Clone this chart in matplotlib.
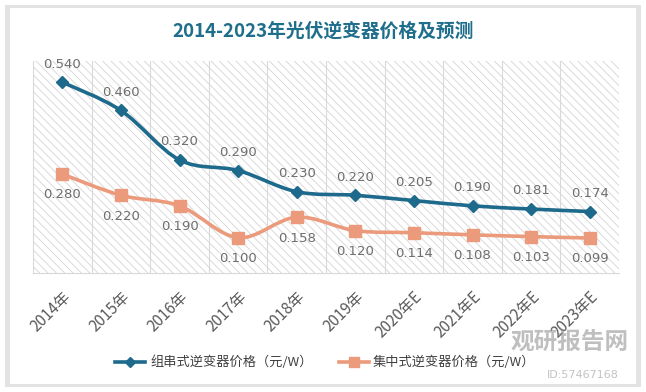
import matplotlib
matplotlib.use("Agg")
import matplotlib.pyplot as plt
import numpy as np
from matplotlib.path import Path
from matplotlib.patches import PathPatch, Rectangle

plt.rcParams['font.family'] = ['Noto Sans CJK SC', 'DejaVu Sans']
plt.rcParams['hatch.linewidth'] = 0.6
plt.rcParams['hatch.color'] = '#D4D4D4'

categories = ['2014年', '2015年', '2016年', '2017年', '2018年', '2019年',
              '2020年E', '2021年E', '2022年E', '2023年E']
string_price = [0.540, 0.460, 0.320, 0.290, 0.230, 0.220, 0.205, 0.190, 0.181, 0.174]
central_price = [0.280, 0.220, 0.190, 0.100, 0.158, 0.120, 0.114, 0.108, 0.103, 0.099]
series_names = ['组串式逆变器价格（元/W）', '集中式逆变器价格（元/W）']
title = '2014-2023年光伏逆变器价格及预测'

BLUE = '#1D6A8C'
ORANGE = '#EB9B7B'
LABEL = '#6E6E6E'

fig = plt.figure(figsize=(6.46, 3.92), dpi=100)
fig.patch.set_facecolor('white')

# card with soft shadow
for pad, c in [(9, '#F2F2F2'), (7, '#E9E9E9'), (5, '#E3E3E3')]:
    fig.add_artist(Rectangle((pad / 646, pad / 392), 1 - 2 * pad / 646, 1 - 2 * pad / 392,
                             transform=fig.transFigure, facecolor=c, edgecolor='none', zorder=0))
fig.add_artist(Rectangle((10 / 646, 8 / 392), 1 - 20 / 646, 1 - 16 / 392,
                         transform=fig.transFigure, facecolor='white', edgecolor='none', zorder=0))

ax = fig.add_axes([33 / 646, (392 - 273) / 392, (619 - 33) / 646, (273 - 61) / 392])
ax.set_facecolor('none')
ax.add_patch(Rectangle((0, 0), 1, 1, transform=ax.transAxes, facecolor='white',
                       edgecolor='#D4D4D4', hatch='\\\\\\\\', linewidth=0, zorder=0))

n = len(categories)
x = np.arange(n)


def smooth_path(xs, ys):
    verts = [(xs[0], ys[0])]
    codes = [Path.MOVETO]
    for i in range(len(xs) - 1):
        p0 = np.array([xs[max(i - 1, 0)], ys[max(i - 1, 0)]])
        p1 = np.array([xs[i], ys[i]])
        p2 = np.array([xs[i + 1], ys[i + 1]])
        p3 = np.array([xs[min(i + 2, len(xs) - 1)], ys[min(i + 2, len(xs) - 1)]])
        c1 = p1 + (p2 - p0) / 6
        c2 = p2 - (p3 - p1) / 6
        verts += [tuple(c1), tuple(c2), tuple(p2)]
        codes += [Path.CURVE4] * 3
    return Path(verts, codes)


ax.add_patch(PathPatch(smooth_path(x, string_price), facecolor='none', edgecolor=BLUE,
                       linewidth=2.6, zorder=3, capstyle='round'))
ax.add_patch(PathPatch(smooth_path(x, central_price), facecolor='none', edgecolor=ORANGE,
                       linewidth=2.6, zorder=3, capstyle='round'))
ax.plot(x, string_price, linestyle='none', marker='D', markersize=6, color=BLUE, zorder=4)
ax.plot(x, central_price, linestyle='none', marker='s', markersize=8, color=ORANGE, zorder=4)

for xi, v in zip(x, string_price):
    ax.annotate(f'{v:.3f}', (xi, v), xytext=(0, 13), textcoords='offset points',
                ha='center', va='center', fontsize=9.5, color=LABEL, family='DejaVu Sans')
for xi, v in zip(x, central_price):
    ax.annotate(f'{v:.3f}', (xi, v), xytext=(0, -15), textcoords='offset points',
                ha='center', va='center', fontsize=9.5, color=LABEL, family='DejaVu Sans')

ax.set_xlim(-0.5, n - 0.5)
ax.set_ylim(0, 0.6)
ax.set_yticks([])
ax.set_xticks(x)
ax.set_xticklabels(categories, rotation=45, ha='right', rotation_mode='anchor',
                   fontsize=11, color='#595959')
ax.tick_params(axis='x', length=0, pad=11)
for b in np.arange(0.5, n - 0.5, 1):
    ax.axvline(b, color='#D9D9D9', linewidth=0.8, zorder=1)
for s in ['top', 'right']:
    ax.spines[s].set_visible(False)
ax.spines['left'].set_color('#D9D9D9')
ax.spines['bottom'].set_color('#D9D9D9')

fig.text(0.5, 1 - 31 / 392, title, ha='center', va='center', fontsize=13.5,
         fontweight='bold', color='#1F6E8C')

# legend
ly = 1 - 362 / 392
fig.add_artist(plt.Line2D([115 / 646, 145 / 646], [ly, ly], color=BLUE, linewidth=2.6,
                          transform=fig.transFigure))
fig.add_artist(plt.Line2D([130 / 646], [ly], color=BLUE, marker='D', markersize=5,
                          linestyle='none', transform=fig.transFigure))
fig.text(150 / 646, ly, series_names[0], ha='left', va='center', fontsize=9.5, color='#404040')
fig.add_artist(plt.Line2D([339 / 646, 369 / 646], [ly, ly], color=ORANGE, linewidth=2.6,
                          transform=fig.transFigure))
fig.add_artist(plt.Line2D([354 / 646], [ly], color=ORANGE, marker='s', markersize=7,
                          linestyle='none', transform=fig.transFigure))
fig.text(373 / 646, ly, series_names[1], ha='left', va='center', fontsize=9.5, color='#404040')

# watermark
fig.text(570 / 646, 1 - 342 / 392, '观研报告网', ha='center', va='center', fontsize=17,
         fontweight='bold', color='#8C8C8C', alpha=0.55)
fig.text(583 / 646, 1 - 375 / 392, 'ID:57467168', ha='center', va='center', fontsize=8,
         color='#9A9A9A', alpha=0.6, family='DejaVu Sans')

fig.savefig('out.png', dpi=100)
